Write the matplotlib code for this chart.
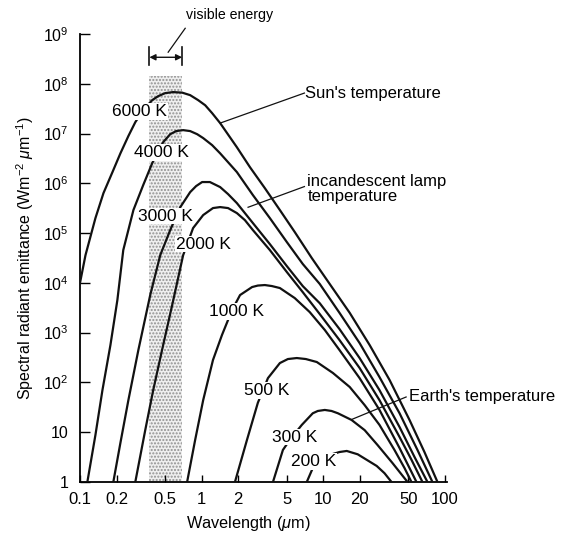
import matplotlib
matplotlib.use('Agg')
import matplotlib.pyplot as plt
from matplotlib.ticker import NullLocator

plt.rcParams['font.family'] = ['Liberation Sans', 'DejaVu Sans']
plt.rcParams['mathtext.fontset'] = 'custom'
plt.rcParams['mathtext.rm'] = 'Liberation Sans'
plt.rcParams['mathtext.it'] = 'Liberation Sans:italic'

# Curves: wavelength (um) and emittance (W m-2 um-1)
wl_6000 = [0.1, 0.111, 0.134, 0.156, 0.185, 0.215, 0.25, 0.285, 0.331, 0.393, 0.44, 0.502, 0.583,
           0.692, 0.805, 0.936, 1.07, 1.22, 1.42, 1.95, 2.5, 3.31, 4.4, 5.83, 8.05, 11.3, 16.5,
           24.1, 35.1, 51.2, 67.9, 86.9]
em_6000 = [9.9e3, 3.6e4, 2.0e5, 6.35e5, 1.68e6, 4.0e6, 8.9e6, 1.69e7, 2.95e7, 4.7e7, 5.64e7, 6.48e7, 6.8e7,
           6.63e7, 5.9e7, 4.69e7, 3.7e7, 2.57e7, 1.62e7, 5.3e6, 2.1e6, 8.0e5, 2.9e5, 1.05e5, 3.15e4, 9.5e3, 2.5e3,
           5.6e2, 112, 17.6, 4.0, 1]

wl_4000 = [0.115, 0.134, 0.153, 0.178, 0.203, 0.227, 0.275, 0.331, 0.393, 0.483, 0.552, 0.618, 0.705,
           0.805, 0.919, 1.03, 1.22, 1.42, 1.95, 2.64, 3.64, 5.02, 6.79, 9.36, 13.6, 19.9, 29.0, 42.4,
           59.5, 79.0]
em_4000 = [1, 8.8, 70, 564, 4520, 4.56e4, 2.9e5, 9.2e5, 2.55e6, 6.7e6, 9.7e6, 1.12e7, 1.17e7,
           1.12e7, 9.7e6, 8.1e6, 5.85e6, 4.0e6, 1.68e6, 5.8e5, 2.0e5, 6.6e4, 2.39e4, 9.5e3, 2.5e3, 618, 128, 24,
           4.4, 1]

wl_3000 = [0.188, 0.215, 0.25, 0.302, 0.378, 0.457, 0.552, 0.667, 0.805, 0.901, 1.01, 1.17, 1.42,
           1.65, 1.95, 2.64, 3.64, 5.02, 6.79, 9.36, 13.6, 19.9, 29.0, 42.4, 56.2, 71.9]
em_3000 = [1, 6.1, 44, 447, 5690, 3.6e4, 1.15e5, 3.3e5, 6.65e5, 8.79e5, 1.06e6, 1.06e6, 8.4e5,
           6.07e5, 4.0e5, 1.59e5, 6.0e4, 2.17e4, 8.6e3, 3.9e3, 1.18e3, 309, 70, 12.7, 3.2, 1]

wl_2000 = [0.285, 0.344, 0.40, 0.483, 0.573, 0.705, 0.851, 1.03, 1.24, 1.42, 1.65, 1.95, 2.27,
           2.64, 3.64, 5.02, 6.79, 9.36, 13.6, 19.9, 29.0, 42.4, 53.1, 65.4]
em_2000 = [1, 11, 70, 564, 3580, 3.6e4, 1.26e5, 2.3e5, 3.18e5, 3.33e5, 3.18e5, 2.52e5, 1.82e5,
           1.15e5, 4.56e4, 1.65e4, 6.5e3, 2.36e3, 710, 195, 44, 8.0, 2.8, 1]

wl_1000 = [0.76, 0.885, 1.03, 1.24, 1.47, 1.78, 2.07, 2.60, 2.90, 3.31, 3.78, 4.40, 5.83, 7.74,
           10.3, 13.6, 19.9, 29.0, 42.4, 58.4]
em_1000 = [1, 7.0, 44, 282, 895, 2840, 5690, 8240, 8830, 9040, 8630, 7870, 4950, 2590,
           1130, 447, 122, 28, 4.8, 1]

wl_500 = [1.88, 2.36, 2.90, 3.51, 4.40, 5.12, 6.06, 7.19, 8.85, 12.0, 16.5, 21.9, 29.0, 38.5, 46.6, 53.1]
em_500 = [1, 7.0, 39, 122, 245, 295, 309, 295, 257, 155, 81, 35, 14, 4.4, 1.9, 1]

wl_300 = [3.86, 4.66, 5.31, 6.66, 8.20, 9.02, 10.3, 11.7, 13.2, 17.1, 21.9, 28.0, 37.1, 49.3]
em_300 = [1, 4.4, 7.0, 14, 24, 26.7, 28, 26.7, 24, 17.6, 11, 5.5, 2.4, 1]

wl_200 = [7.32, 8.20, 9.36, 11.3, 13.6, 15.6, 19.2, 22.7, 27.5, 31.9, 36.4]
em_200 = [1, 1.9, 2.6, 3.5, 4.0, 4.2, 3.6, 2.8, 2.1, 1.5, 1]

temp_labels = ['6000 K', '4000 K', '3000 K', '2000 K', '1000 K', '500 K', '300 K', '200 K']
label_wl = [0.307, 0.466, 0.502, 1.03, 1.95, 3.44, 5.84, 8.36]
label_em = [2.8e7, 4.2e6, 2.2e5, 6.0e4, 2.7e3, 70, 8.0, 2.6]

visible_band = [0.372, 0.692]
visible_top = 1.4e8

x_ticks = [0.1, 0.2, 0.5, 1, 2, 5, 10, 20, 50, 100]
x_tick_labels = ['0.1', '0.2', '0.5', '1', '2', '5', '10', '20', '50', '100']
y_ticks = [1, 10, 1e2, 1e3, 1e4, 1e5, 1e6, 1e7, 1e8, 1e9]
y_tick_labels = ['1', '10', '$10^2$', '$10^3$', '$10^4$', '$10^5$',
                 '$10^6$', '$10^7$', '$10^8$', '$10^9$']

fig = plt.figure(figsize=(5.62, 5.34), dpi=100)
ax = fig.add_axes([0.1423, 0.0974, 0.653, 0.839])
ax.set_xscale('log')
ax.set_yscale('log')
ax.set_xlim(0.1, 104)
ax.set_ylim(1, 1e9)

# stippled band for visible light
ax.fill_between(visible_band, 1, visible_top, facecolor='#efefef', edgecolor='#909090',
                hatch='.....', linewidth=0, zorder=1)

curves = [(wl_6000, em_6000), (wl_4000, em_4000), (wl_3000, em_3000), (wl_2000, em_2000),
          (wl_1000, em_1000), (wl_500, em_500), (wl_300, em_300), (wl_200, em_200)]
for wl, em in curves:
    ax.plot(wl, em, color='#111111', lw=1.6, solid_capstyle='round',
            solid_joinstyle='round', zorder=3)

for txt, x, y in zip(temp_labels, label_wl, label_em):
    ax.text(x, y, txt, ha='center', va='center', fontsize=12.5, zorder=5,
            bbox=dict(facecolor='white', edgecolor='none', pad=0.6))

# leader lines and notes
ax.plot([1.42, 7.0], [1.62e7, 6.5e7], color='#111111', lw=0.9, zorder=4)
ax.text(7.1, 6.5e7, "Sun's temperature", ha='left', va='center', fontsize=12)

ax.plot([2.41, 7.0], [3.3e5, 8.6e5], color='#111111', lw=0.9, zorder=4)
ax.text(7.4, 7.7e5, 'incandescent lamp\ntemperature', ha='left', va='center',
        fontsize=12, linespacing=1.0)

ax.plot([17.1, 48.0], [18, 51], color='#111111', lw=0.9, zorder=4)
ax.text(51.0, 51, "Earth's temperature", ha='left', va='center', fontsize=12)

ax.plot([0.531, 0.733], [4.3e8, 1.3e9], color='#111111', lw=0.9, zorder=4, clip_on=False)
ax.text(0.74, 2.4e9, 'visible energy', ha='left', va='center', fontsize=10.2)
ax.annotate('', xy=(visible_band[0], 3.4e8), xytext=(visible_band[1], 3.4e8),
            arrowprops=dict(arrowstyle='<|-|>', color='#111111', lw=1.0,
                            shrinkA=0, shrinkB=0, mutation_scale=9))
for xb in visible_band:
    ax.plot([xb, xb], [2.4e8, 5.4e8], color='#111111', lw=1.2, zorder=4)

ax.set_xticks(x_ticks)
ax.set_xticklabels(x_tick_labels)
ax.set_yticks(y_ticks)
ax.set_yticklabels(y_tick_labels)
ax.xaxis.set_minor_locator(NullLocator())
ax.yaxis.set_minor_locator(NullLocator())
ax.tick_params(axis='y', direction='in', length=7, width=1.0, labelsize=11.5, pad=8)
ax.tick_params(axis='x', direction='in', length=5, width=1.0, labelsize=12, pad=7)

for side in ['top', 'right']:
    ax.spines[side].set_visible(False)
for side in ['left', 'bottom']:
    ax.spines[side].set_linewidth(1.3)

ax.set_xlabel('Wavelength ($\\mu$m)', fontsize=11.7, labelpad=5, x=0.46)
ax.set_ylabel('Spectral radiant emittance (Wm$^{-2}$ $\\mu$m$^{-1}$)', fontsize=11.5, labelpad=5)

fig.savefig('out.png', dpi=100)
